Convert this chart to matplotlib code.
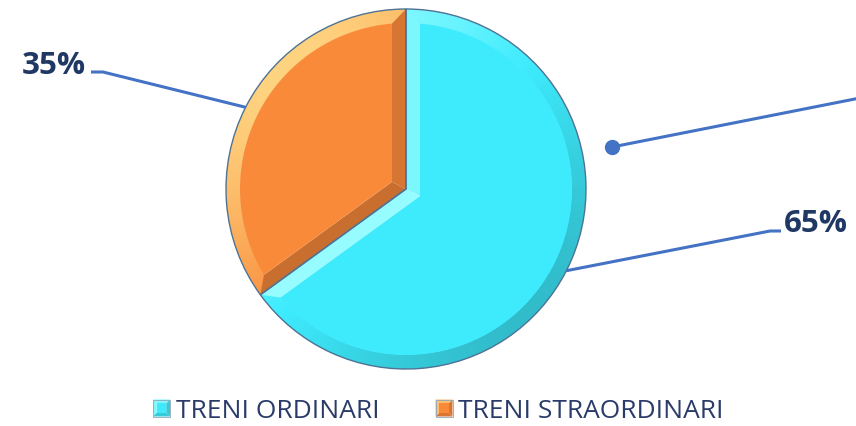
import numpy as np
import matplotlib.pyplot as plt
from matplotlib.patches import Wedge, Polygon
import matplotlib.colors as mcolors

# data
labels = ["TRENI ORDINARI", "TRENI STRAORDINARI"]
values = [65, 35]
pct_labels = ["65%", "35%"]
colors = ["#3DEBFD", "#F98A3A"]
highlights = ["#A8FFFF", "#FFE08C"]

W, H = 856, 427
fig = plt.figure(figsize=(W / 100, H / 100), dpi=100)
ax = fig.add_axes([0, 0, 1, 1])
ax.set_xlim(0, W)
ax.set_ylim(0, H)
ax.set_aspect("equal")
ax.axis("off")

cx, cy, R, bev = 406, 237, 180, 14
LIGHT = 135  # light from upper left
line_c = "#4472C4"
text_c = "#1F3864"


def shade(base, hi, b):
    rgb = np.array(mcolors.to_rgb(base))
    if b > 0:
        h = np.array(mcolors.to_rgb(hi))
        return tuple(rgb + (h - rgb) * 0.85 * b)
    return tuple(rgb * (1 + 0.2 * b))


def pol(r, a):
    t = np.radians(a)
    return np.array([cx + r * np.cos(t), cy + r * np.sin(t)])


def bevel_wedge(t1, t2, base, hi):
    # t1 < t2, counter-clockwise
    half = np.radians((t2 - t1) / 2)
    ri = R - bev
    d1 = np.degrees(np.arcsin(bev / ri))
    inner_tip = pol(bev / np.sin(half), (t1 + t2) / 2)
    # rim facets, shaded by angle
    n = 120
    angs = np.linspace(t1, t2, n + 1)
    for a0, a1 in zip(angs[:-1], angs[1:]):
        b = np.cos(np.radians((a0 + a1) / 2 - LIGHT))
        ax.add_patch(Wedge((cx, cy), R, a0, min(a1 + 0.3, t2), width=bev + 0.5,
                           facecolor=shade(base, hi, b), edgecolor="none", zorder=2))
    # radial facets
    for ta, tin, nrm in [(t1, t1 + d1, t1 - 90), (t2, t2 - d1, t2 + 90)]:
        b = np.cos(np.radians(nrm - LIGHT))
        poly = [np.array([cx, cy]), pol(R, ta), pol(ri, tin), inner_tip]
        ax.add_patch(Polygon(poly, closed=True, facecolor=shade(base, hi, b),
                             edgecolor="none", zorder=2.5))
    # flat top face
    arc = [pol(ri, a) for a in np.linspace(t1 + d1, t2 - d1, 200)]
    ax.add_patch(Polygon([inner_tip] + arc, closed=True, facecolor=base,
                         edgecolor="none", zorder=3))
    # outline
    ax.add_patch(Wedge((cx, cy), R, t1, t2, facecolor="none",
                       edgecolor="#4F7394", lw=1.0, zorder=4))


# wedges clockwise from the top
start = 90
mids = []
for v, c, hc in zip(values, colors, highlights):
    sweep = v / sum(values) * 360
    t2 = start
    t1 = start - sweep
    bevel_wedge(t1, t2, c, hc)
    mids.append((t1 + t2) / 2)
    start = t1

# leader lines + labels
# 65%
p = pol(R, mids[0])
ax.plot([p[0], 770, 781], [p[1], 195, 195], color=line_c, lw=2.2,
        solid_capstyle="butt", zorder=5)
ax.text(784, 195, pct_labels[0], fontsize=22.5, fontweight="bold",
        family="Open Sans", color=text_c, ha="left", va="baseline")
# 35%
p = pol(R, mids[1])
ax.plot([p[0], 103, 91], [p[1], 354, 354], color=line_c, lw=2.2,
        solid_capstyle="butt", zorder=5)
ax.text(86, 353, pct_labels[1], fontsize=22.5, fontweight="bold",
        family="Open Sans", color=text_c, ha="right", va="baseline")

# stray leader line with dot
ax.plot([612, 870], [279, 330], color=line_c, lw=2.2, zorder=5,
        solid_capstyle="butt")
ax.plot([612], [279], "o", color=line_c, markersize=10, zorder=6)


# legend
def legend_square(x, y, base, hi, s=17):
    h = s / 2
    i = s * 0.22
    pts_out = [(x - h, y - h), (x + h, y - h), (x + h, y + h), (x - h, y + h)]
    pts_in = [(x - h + i, y - h + i), (x + h - i, y - h + i),
              (x + h - i, y + h - i), (x - h + i, y + h - i)]
    nrms = [270, 0, 90, 180]
    for k in range(4):
        quad = [pts_out[k], pts_out[(k + 1) % 4], pts_in[(k + 1) % 4], pts_in[k]]
        b = np.cos(np.radians(nrms[k] - LIGHT))
        ax.add_patch(Polygon(quad, closed=True, facecolor=shade(base, hi, b),
                             edgecolor="none", zorder=5))
    ax.add_patch(Polygon(pts_in, closed=True, facecolor=base, edgecolor="none",
                         zorder=6))
    ax.add_patch(Polygon(pts_out, closed=True, facecolor="none",
                         edgecolor="#8FA6B8", lw=0.6, zorder=7))


leg_x = [161.5, 444]
for lx, lab, c, hc in zip(leg_x, labels, colors, highlights):
    legend_square(lx, 18, c, hc)
    ax.text(lx + 14, 9, lab, fontsize=19, family="Open Sans",
            color="#2A3B6A", ha="left", va="baseline")

fig.savefig("out.png", dpi=100)
